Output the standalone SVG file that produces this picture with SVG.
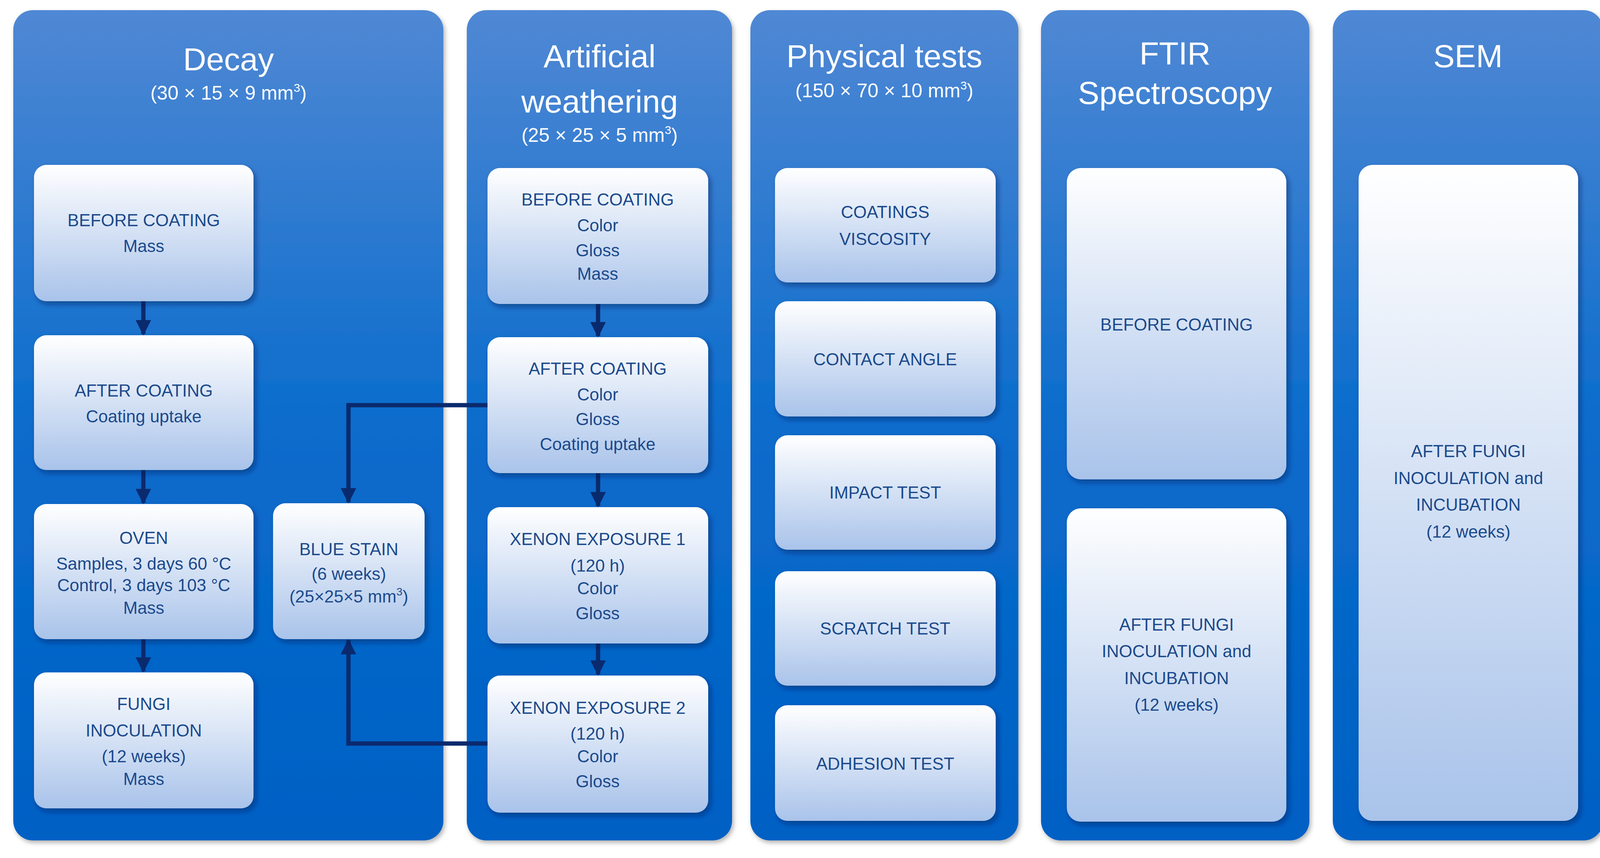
<svg xmlns="http://www.w3.org/2000/svg" width="4135" height="2196" viewBox="0 0 4135 2196">
<defs>
<linearGradient id="pg" x1="0" y1="0" x2="0" y2="1"><stop offset="0" stop-color="#5088d4"/><stop offset="0.5" stop-color="#0a6ccc"/><stop offset="1" stop-color="#0060c4"/></linearGradient>
<linearGradient id="ng" x1="0" y1="0" x2="0" y2="1"><stop offset="0" stop-color="#ffffff"/><stop offset="1" stop-color="#a9c3ea"/></linearGradient>
<filter id="sh" x="-10%" y="-10%" width="130%" height="130%"><feDropShadow dx="6" dy="8" stdDeviation="7" flood-color="#001a50" flood-opacity="0.45"/></filter>
<filter id="psh" x="-5%" y="-5%" width="110%" height="110%"><feDropShadow dx="4" dy="6" stdDeviation="6" flood-color="#000" flood-opacity="0.3"/></filter>
<marker id="ah" viewBox="0 0 10 10" refX="9" refY="5" markerWidth="3.6" markerHeight="3.6" orient="auto" markerUnits="strokeWidth"><path d="M0,0 L10,5 L0,10 z" fill="#0a2a6e"/></marker>
</defs>
<style>
.p{fill:url(#pg);filter:url(#psh)}
.n{fill:url(#ng);filter:url(#sh)}
.t{font-family:"Liberation Sans",Arial,sans-serif;fill:#fff;text-anchor:middle}
.h{font-size:82px}
.s{font-size:50px}
.x{font-family:"Liberation Sans",Arial,sans-serif;fill:#1b4a8c;font-size:44px;text-anchor:middle}
.c{stroke:#0a2a6e;stroke-width:11;fill:none}
</style>
<rect width="4135" height="2196" fill="#fff"/>
<g id="panel-decay"><rect class="p" x="34" y="26" width="1101" height="2125" rx="50"/>
<text class="t h" x="585" y="180">Decay</text><text class="t s" x="585" y="255">(30 × 15 × 9 mm<tspan font-size="30" dy="-20">3</tspan><tspan dy="20">)</tspan></text></g>
<g id="panel-weathering"><rect class="p" x="1195" y="26" width="679" height="2125" rx="50"/>
<text class="t h" x="1535" y="172">Artificial</text><text class="t h" x="1535" y="288">weathering</text><text class="t s" x="1535" y="363">(25 × 25 × 5 mm<tspan font-size="30" dy="-20">3</tspan><tspan dy="20">)</tspan></text></g>
<g id="panel-physical"><rect class="p" x="1921" y="26" width="686" height="2125" rx="50"/>
<text class="t h" x="2264" y="172">Physical tests</text><text class="t s" x="2264" y="249">(150 × 70 × 10 mm<tspan font-size="30" dy="-20">3</tspan><tspan dy="20">)</tspan></text></g>
<g id="panel-ftir"><rect class="p" x="2665" y="26" width="687" height="2125" rx="50"/>
<text class="t h" x="3008" y="165">FTIR</text><text class="t h" x="3008" y="266">Spectroscopy</text></g>
<g id="panel-sem"><rect class="p" x="3412" y="26" width="692" height="2125" rx="50"/>
<text class="t h" x="3758" y="172">SEM</text></g>

<g id="connectors">
<line class="c" x1="367" y1="771" x2="367" y2="855" marker-end="url(#ah)"/>
<line class="c" x1="367" y1="1203" x2="367" y2="1287" marker-end="url(#ah)"/>
<line class="c" x1="367" y1="1636" x2="367" y2="1718" marker-end="url(#ah)"/>
<line class="c" x1="1531" y1="778" x2="1531" y2="860" marker-end="url(#ah)"/>
<line class="c" x1="1531" y1="1211" x2="1531" y2="1295" marker-end="url(#ah)"/>
<line class="c" x1="1531" y1="1647" x2="1531" y2="1726" marker-end="url(#ah)"/>
<polyline class="c" points="1248,1037 892,1037 892,1285" marker-end="url(#ah)"/>
<polyline class="c" points="1248,1903 892,1903 892,1639" marker-end="url(#ah)"/>
</g>

<g id="n-decay-before"><rect class="n" x="87" y="422" width="562" height="349" rx="32"/><text class="x" x="368" y="579">BEFORE COATING</text><text class="x" x="368" y="645">Mass</text></g>
<g id="n-decay-after"><rect class="n" x="87" y="858" width="562" height="345" rx="32"/><text class="x" x="368" y="1015">AFTER COATING</text><text class="x" x="368" y="1081">Coating uptake</text></g>
<g id="n-oven"><rect class="n" x="87" y="1290" width="562" height="346" rx="32"/><text class="x" x="368" y="1392">OVEN</text><text class="x" x="368" y="1458">Samples, 3 days 60 °C</text><text class="x" x="368" y="1513">Control, 3 days 103 °C</text><text class="x" x="368" y="1571">Mass</text></g>
<g id="n-fungi"><rect class="n" x="87" y="1721" width="562" height="348" rx="32"/><text class="x" x="368" y="1817">FUNGI</text><text class="x" x="368" y="1885">INOCULATION</text><text class="x" x="368" y="1951">(12 weeks)</text><text class="x" x="368" y="2009">Mass</text></g>
<g id="n-bluestain"><rect class="n" x="699" y="1288" width="388" height="348" rx="32"/><text class="x" x="893" y="1421">BLUE STAIN</text><text class="x" x="893" y="1484">(6 weeks)</text><text class="x" x="893" y="1542">(25×25×5 mm<tspan font-size="28" dy="-18">3</tspan><tspan dy="18">)</tspan></text></g>

<g id="n-w-before"><rect class="n" x="1248" y="430" width="565" height="348" rx="32"/><text class="x" x="1530" y="526">BEFORE COATING</text><text class="x" x="1530" y="592">Color</text><text class="x" x="1530" y="656">Gloss</text><text class="x" x="1530" y="716">Mass</text></g>
<g id="n-w-after"><rect class="n" x="1248" y="863" width="565" height="348" rx="32"/><text class="x" x="1530" y="959">AFTER COATING</text><text class="x" x="1530" y="1025">Color</text><text class="x" x="1530" y="1088">Gloss</text><text class="x" x="1530" y="1152">Coating uptake</text></g>
<g id="n-xenon1"><rect class="n" x="1248" y="1298" width="565" height="349" rx="32"/><text class="x" x="1530" y="1395">XENON EXPOSURE 1</text><text class="x" x="1530" y="1463">(120 h)</text><text class="x" x="1530" y="1521">Color</text><text class="x" x="1530" y="1585">Gloss</text></g>
<g id="n-xenon2"><rect class="n" x="1248" y="1729" width="565" height="351" rx="32"/><text class="x" x="1530" y="1827">XENON EXPOSURE 2</text><text class="x" x="1530" y="1893">(120 h)</text><text class="x" x="1530" y="1951">Color</text><text class="x" x="1530" y="2015">Gloss</text></g>

<g id="n-viscosity"><rect class="n" x="1984" y="430" width="565" height="293" rx="32"/><text class="x" x="2266" y="558">COATINGS</text><text class="x" x="2266" y="627">VISCOSITY</text></g>
<g id="n-contact"><rect class="n" x="1984" y="771" width="565" height="295" rx="32"/><text class="x" x="2266" y="935">CONTACT ANGLE</text></g>
<g id="n-impact"><rect class="n" x="1984" y="1114" width="565" height="293" rx="32"/><text class="x" x="2266" y="1276">IMPACT TEST</text></g>
<g id="n-scratch"><rect class="n" x="1984" y="1462" width="565" height="293" rx="32"/><text class="x" x="2266" y="1624">SCRATCH TEST</text></g>
<g id="n-adhesion"><rect class="n" x="1984" y="1805" width="565" height="296" rx="32"/><text class="x" x="2266" y="1970">ADHESION TEST</text></g>

<g id="n-ftir-before"><rect class="n" x="2731" y="430" width="562" height="797" rx="36"/><text class="x" x="3012" y="846">BEFORE COATING</text></g>
<g id="n-ftir-after"><rect class="n" x="2731" y="1301" width="562" height="802" rx="36"/><text class="x" x="3012" y="1614">AFTER FUNGI</text><text class="x" x="3012" y="1682">INOCULATION and</text><text class="x" x="3012" y="1751">INCUBATION</text><text class="x" x="3012" y="1819">(12 weeks)</text></g>
<g id="n-sem"><rect class="n" x="3478" y="422" width="562" height="1679" rx="36"/><text class="x" x="3759" y="1170">AFTER FUNGI</text><text class="x" x="3759" y="1239">INOCULATION and</text><text class="x" x="3759" y="1307">INCUBATION</text><text class="x" x="3759" y="1376">(12 weeks)</text></g>
</svg>
